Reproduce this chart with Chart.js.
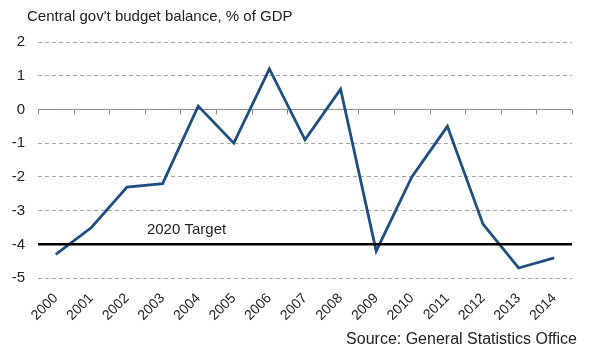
<!DOCTYPE html>
<html lang="en">
  <head>
    <meta charset="UTF-8" />
    <title>Central gov't budget balance</title>
    <style>
      html, body { margin: 0; padding: 0; background: #fff; }
      #wrap { width: 590px; height: 354px; }
    </style>
  </head>
  <body>
    <div id="wrap"><canvas id="lienzo"></canvas></div>
    <script src="https://cdn.jsdelivr.net/npm/chart.js"></script>
    <script>
      const years = ["2000", "2001", "2002", "2003", "2004", "2005", "2006", "2007",
                     "2008", "2009", "2010", "2011", "2012", "2013", "2014"];
      const balance = [-4.3, -3.5, -2.3, -2.2, 0.1, -1.0, 1.2, -0.9,
                       0.6, -4.2, -2.0, -0.5, -3.4, -4.7, -4.4];
      const target = -4;
      const targetLabel = "2020 Target";
      const yTicks = [2, 1, 0, -1, -2, -3, -4, -5];
      const titulo = "Central gov't budget balance, % of GDP";
      const fuenteDatos = "Source: General Statistics Office";

      const fuente = "'Liberation Sans', Arial, sans-serif";

      // zero axis with tick marks, 2020 target line, title and source
      const extras = {
        id: "extras",
        beforeDatasetsDraw(chart) {
          const { ctx, chartArea, scales } = chart;
          const x = scales.x, y = scales.y;
          const y0 = y.getPixelForValue(0);
          const paso = x.getPixelForValue(1) - x.getPixelForValue(0);
          ctx.save();
          ctx.strokeStyle = "#8c8c8c";
          ctx.lineWidth = 1;
          ctx.beginPath();
          ctx.moveTo(chartArea.left, y0);
          ctx.lineTo(chartArea.right, y0);
          for (let i = 0; i <= years.length; i++) {
            const px = Math.round(x.getPixelForValue(0) - paso / 2 + i * paso) + 0.5;
            ctx.moveTo(px, y0);
            ctx.lineTo(px, y0 + 5);
          }
          ctx.stroke();
          ctx.restore();
        },
        afterDatasetsDraw(chart) {
          const { ctx, chartArea, scales } = chart;
          const yt = scales.y.getPixelForValue(target);
          ctx.save();
          ctx.strokeStyle = "#000";
          ctx.lineWidth = 2.5;
          ctx.beginPath();
          ctx.moveTo(chartArea.left, yt);
          ctx.lineTo(chartArea.right, yt);
          ctx.stroke();
          ctx.fillStyle = "#222";
          ctx.font = "15px " + fuente;
          ctx.textBaseline = "middle";
          ctx.fillText(targetLabel, scales.x.getPixelForValue(2.56), yt - 15);
          ctx.restore();
        },
        afterDraw(chart) {
          const { ctx } = chart;
          ctx.save();
          ctx.fillStyle = "#222";
          ctx.textBaseline = "middle";
          ctx.font = "15px " + fuente;
          ctx.textAlign = "left";
          ctx.fillText(titulo, 27, 17);
          ctx.font = "16px " + fuente;
          ctx.textAlign = "right";
          ctx.fillText(fuenteDatos, 577, 340);
          ctx.restore();
        },
      };

      new Chart(document.querySelector("#lienzo"), {
        type: "line",
        data: {
          labels: years,
          datasets: [{
            data: balance,
            borderColor: "#1f4e80",
            borderWidth: 2.8,
            pointRadius: 0,
            tension: 0,
            fill: false,
          }],
        },
        options: {
          responsive: true,
          maintainAspectRatio: false,
          animation: false,
          layout: { padding: { left: 6, right: 18, top: 42, bottom: 26 } },
          plugins: {
            legend: { display: false },
            tooltip: { enabled: false },
          },
          scales: {
            x: {
              offset: true,
              grid: { display: false },
              border: { display: false },
              ticks: {
                color: "#222",
                font: { family: fuente, size: 14 },
                minRotation: 45,
                maxRotation: 45,
                padding: 4,
              },
            },
            y: {
              min: -5,
              max: 2,
              afterBuildTicks(axis) {
                axis.ticks = yTicks.map((v) => ({ value: v }));
              },
              afterFit(axis) {
                axis.width = 32;
              },
              grid: { color: "#a6a6a6", lineWidth: 1, drawTicks: false },
              border: { display: false, dash: [4, 3] },
              ticks: {
                color: "#222",
                font: { family: fuente, size: 15 },
                padding: 13,
              },
            },
          },
        },
        plugins: [extras],
      });
    </script>
  </body>
</html>
